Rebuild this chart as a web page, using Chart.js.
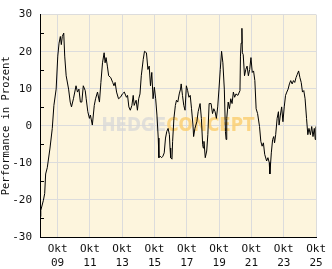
<!DOCTYPE html>
<html>
<head>
<meta charset="utf-8">
<script src="https://cdn.jsdelivr.net/npm/chart.js@4/dist/chart.umd.min.js"></script>
<style>
html,body{margin:0;padding:0;background:#fff;}
#wrap{width:332px;height:269px;}
</style>
</head>
<body>
<div id="wrap"><canvas id="perfChart" width="332" height="269"></canvas></div>
<script>

/* DATA */

const years=[2008.67,2008.71,2008.87,2008.95,2009.01,2009.11,2009.28,2009.42,2009.52,2009.66,
2009.76,2009.84,2009.92,2009.98,2010.04,2010.13,2010.19,2010.28,2010.43,2010.53,
2010.61,2010.73,2010.89,2010.98,2011.07,2011.16,2011.25,2011.34,2011.46,2011.52,
2011.62,2011.72,2011.78,2011.90,2012.02,2012.10,2012.22,2012.34,2012.43,2012.53,
2012.63,2012.69,2012.75,2012.83,2012.91,2013.04,2013.16,2013.24,2013.31,2013.40,
2013.52,2013.64,2013.76,2013.88,2014.01,2014.08,2014.16,2014.25,2014.35,2014.43,
2014.49,2014.61,2014.69,2014.77,2014.85,2014.93,2015.05,2015.13,2015.25,2015.34,
2015.42,2015.50,2015.58,2015.66,2015.74,2015.82,2015.90,2015.98,2016.02,2016.10,
2016.19,2016.27,2016.35,2016.43,2016.51,2016.59,2016.67,2016.71,2016.75,2016.83,
2016.87,2016.95,2017.04,2017.11,2017.19,2017.28,2017.36,2017.40,2017.48,2017.56,
2017.64,2017.72,2017.80,2017.88,2017.96,2018.04,2018.13,2018.17,2018.25,2018.37,
2018.45,2018.57,2018.65,2018.73,2018.77,2018.81,2018.89,2018.98,2019.05,2019.13,
2019.25,2019.34,2019.42,2019.50,2019.58,2019.66,2019.74,2019.82,2019.90,2019.98,
2020.07,2020.14,2020.18,2020.22,2020.31,2020.39,2020.47,2020.55,2020.63,2020.71,
2020.79,2020.91,2021.04,2021.07,2021.11,2021.16,2021.19,2021.24,2021.32,2021.40,
2021.48,2021.56,2021.64,2021.72,2021.80,2021.88,2021.96,2022.04,2022.13,2022.25,
2022.33,2022.41,2022.49,2022.57,2022.69,2022.77,2022.85,2022.89,2022.98,2023.06,
2023.13,2023.18,2023.25,2023.34,2023.42,2023.46,2023.54,2023.62,2023.70,2023.78,
2023.86,2023.94,2024.02,2024.10,2024.18,2024.27,2024.35,2024.43,2024.51,2024.59,
2024.67,2024.75,2024.83,2024.91,2024.99,2025.07,2025.16,2025.24,2025.31,2025.40,
2025.48,2025.56,2025.64,2025.70,2025.74];

const perf=[-24.5,-22.8,-20.1,-18.3,-13.0,-11.3,-6.0,-0.7,5.5,9.9,
18.8,22.3,24.1,21.9,24.1,25.0,18.8,13.5,9.9,6.4,
5.1,7.3,10.8,9.1,9.9,6.4,6.4,10.8,9.5,7.3,
3.8,2.0,2.9,0.2,5.5,7.3,9.1,6.4,11.7,17.0,
19.7,17.0,18.4,16.1,13.5,13.0,11.7,10.8,11.7,9.1,
7.3,7.7,8.6,9.1,7.7,8.2,5.1,4.2,5.5,8.2,
5.5,6.9,4.2,7.3,8.6,13.5,17.9,20.1,19.7,15.2,
16.1,10.8,14.4,7.3,10.4,7.3,2.9,-3.3,-8.6,-8.2,
-8.6,-8.2,-7.3,-3.3,-1.5,-0.7,-2.4,-6.0,-8.6,-9.0,
-4.2,2.0,5.5,6.9,6.4,8.6,9.9,11.3,8.2,5.5,
4.2,10.8,9.5,7.7,8.2,4.6,0.2,-2.9,-0.7,1.1,
3.8,6.0,2.0,-5.1,-6.0,-4.2,-8.6,-6.8,-2.4,6.0,
6.0,3.3,4.6,3.8,2.0,5.1,9.9,15.2,20.1,17.0,
9.9,-1.5,-3.7,2.0,6.4,4.6,7.3,6.0,9.1,7.7,
8.6,8.2,9.5,18.8,22.3,26.3,19.7,19.2,13.5,15.2,
16.1,13.5,15.2,18.4,14.4,14.8,12.2,4.6,3.3,-0.2,
-4.2,-5.5,-4.6,-7.7,-9.5,-8.6,-9.9,-13.0,-7.3,-3.7,
-2.9,-4.6,-2.4,2.0,3.8,0.2,2.9,5.1,1.1,5.1,
8.2,9.1,9.9,11.3,12.2,11.3,12.2,11.7,13.0,13.9,
14.8,13.0,11.7,9.1,9.5,7.3,2.0,-2.4,-0.7,-2.4,
-0.2,-2.9,-0.7,-3.7,-0.2];

const tickYears=[2009.75,2011.75,2013.75,2015.75,2017.75,2019.75,2021.75,2023.75,2025.75];
const tickLabels=["09","11","13","15","17","19","21","23","25"];
const monthLabel="Okt";

const FONT="'DejaVu Sans Mono', monospace";

/* PLUGINS */

const plotBg={
id:"plotBg",
beforeDraw(chart){
const {ctx,chartArea:a}=chart;
ctx.save();
ctx.fillStyle="#fdf5dd";
ctx.fillRect(a.left,a.top,a.right-a.left,a.bottom-a.top);
ctx.restore();
}
};

const watermark={
id:"watermark",
beforeDatasetsDraw(chart){
const {ctx,chartArea:a}=chart;
const cx=(a.left+a.right)/2, cy=(a.top+a.bottom)/2;
ctx.save();
ctx.font="bold 20px 'DejaVu Sans'";
ctx.textBaseline="middle";
const w1=ctx.measureText("HEDGE").width, w2=ctx.measureText("CONCEPT").width;
const target=153, sx=target/(w1+w2);
ctx.translate(cx-target/2,cy);
ctx.scale(sx,1);
ctx.fillStyle="rgba(215,215,215,0.75)";
ctx.fillText("HEDGE",0,0);
ctx.fillStyle="rgba(250,205,110,0.8)";
ctx.fillText("CONCEPT",w1,0);
ctx.restore();
}
};

const minorTicks={
id:"minorTicks",
afterDatasetsDraw(chart){
const {ctx,chartArea:a,scales:{y}}=chart;
ctx.save();
ctx.strokeStyle="#000";
ctx.lineWidth=1;
y.ticks.forEach(t=>{
if(t.value%10===0) return;
const py=Math.round(y.getPixelForValue(t.value))+0.5;
ctx.beginPath();
ctx.moveTo(a.left,py);
ctx.lineTo(a.left+4,py);
ctx.stroke();
});
ctx.restore();
}
};

/* CHART */

new Chart(document.getElementById("perfChart"),{
type:"line",
data:{
datasets:[{
data:years.map((x,i)=>({x,y:perf[i]})),
borderColor:"#000",
borderWidth:1,
pointRadius:0,
tension:0,
fill:false
}]
},
options:{
responsive:false,
animation:false,
devicePixelRatio:1,
layout:{padding:{top:11,right:11,left:0,bottom:0}},
plugins:{legend:{display:false},tooltip:{enabled:false}},
scales:{
x:{
type:"linear",
min:2008.66,
max:2025.75,
afterFit(s){ s.height=32; },
afterBuildTicks(s){ s.ticks=tickYears.map(v=>({value:v})); },
grid:{color:"#dcdcdc",drawTicks:false},
border:{color:"#000",width:1},
ticks:{
autoSkip:false,
maxRotation:0,
padding:6,
color:"#111",
font:{family:FONT,size:11},
callback:(v,i)=>[monthLabel,tickLabels[i]]
}
},
y:{
min:-30,
max:30,
afterFit(s){ s.width=40; },
grid:{
drawTicks:false,
color:c=>(c.tick&&c.tick.value%10===0&&c.tick.value>-30)?"#dcdcdc":"rgba(0,0,0,0)"
},
border:{color:"#000",width:1},
ticks:{
stepSize:5,
padding:8,
color:"#111",
font:{family:FONT,size:11},
callback:v=>v%10===0?v:""
},
title:{
display:true,
text:"Performance in Prozent",
color:"#111",
font:{family:FONT,size:10.5},
padding:0
}
}
}
},
plugins:[plotBg,watermark,minorTicks]
});

</script>
</body>
</html>
